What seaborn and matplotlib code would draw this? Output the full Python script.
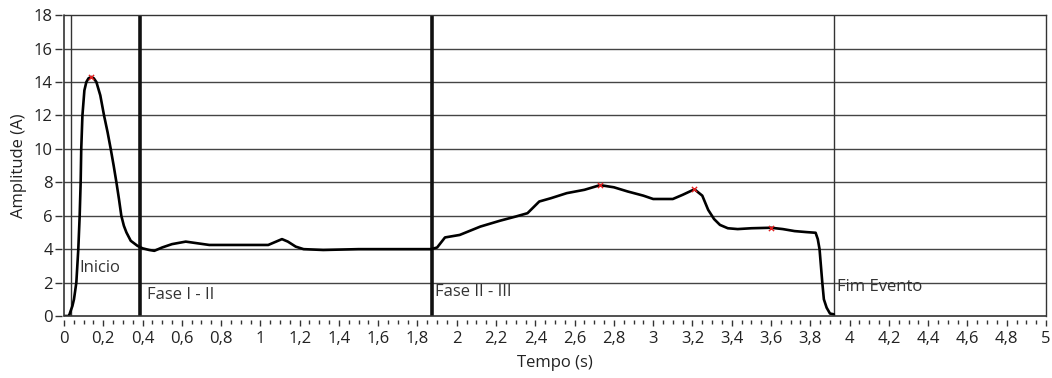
import seaborn as sns
import matplotlib.pyplot as plt
import pandas as pd
from matplotlib.ticker import MultipleLocator, FuncFormatter

# dados
tempo = [0.00, 0.02, 0.026, 0.034, 0.043, 0.051, 0.063, 0.073, 0.080, 0.085, 0.088, 0.094,
         0.104, 0.114, 0.125, 0.139, 0.152, 0.165, 0.185, 0.204, 0.222, 0.238, 0.253, 0.267,
         0.280, 0.292, 0.305, 0.318, 0.34, 0.374, 0.40, 0.434, 0.46, 0.50, 0.55, 0.62, 0.68,
         0.74, 0.85, 0.95, 1.04, 1.08, 1.11, 1.14, 1.18, 1.22, 1.32, 1.50, 1.70, 1.87, 1.90,
         1.94, 2.015, 2.12, 2.22, 2.30, 2.36, 2.39, 2.42, 2.48, 2.56, 2.65, 2.73, 2.80, 2.87,
         2.95, 3.00, 3.10, 3.15, 3.21, 3.25, 3.28, 3.31, 3.34, 3.38, 3.43, 3.50, 3.60, 3.66,
         3.72, 3.78, 3.827, 3.838, 3.847, 3.861, 3.869, 3.883, 3.90, 3.92]
amplitude = [0.0, 0.0, 0.02, 0.3, 0.6, 1.0, 2.0, 4.0, 6.0, 8.0, 10.0, 12.0,
             13.5, 14.0, 14.22, 14.3, 14.22, 14.0, 13.2, 12.0, 11.0, 10.0, 9.0, 8.0,
             7.0, 6.0, 5.4, 5.0, 4.5, 4.2, 4.05, 3.95, 3.9, 4.1, 4.3, 4.45, 4.35,
             4.25, 4.25, 4.25, 4.25, 4.45, 4.6, 4.45, 4.15, 4.0, 3.95, 4.0, 4.0, 4.0, 4.1,
             4.7, 4.85, 5.35, 5.7, 5.95, 6.15, 6.5, 6.85, 7.05, 7.35, 7.55, 7.83, 7.7, 7.45,
             7.2, 7.0, 7.0, 7.25, 7.58, 7.2, 6.35, 5.8, 5.45, 5.25, 5.2, 5.25, 5.28, 5.2,
             5.08, 5.02, 4.98, 4.6, 4.0, 2.0, 1.0, 0.5, 0.15, 0.1]

picos_t = [0.139, 2.73, 3.21, 3.60]
picos_a = [14.3, 7.83, 7.58, 5.28]

marcas_t = [0.036, 0.388, 1.872, 3.923]
marcas_w = [1.0, 2.6, 2.6, 1.0]
marcas_txt = ["Inicio", "Fase I - II", "Fase II - III", "Fim Evento"]
marcas_tx = [0.078, 0.425, 1.89, 3.935]
marcas_ty = [2.87, 1.25, 1.45, 1.75]

df = pd.DataFrame({"t": tempo, "a": amplitude})

sns.set_theme(style="white")
plt.rcParams["font.family"] = ["Open Sans", "DejaVu Sans"]

fig = plt.figure(figsize=(10.52, 3.78), dpi=100)
ax = fig.add_axes([0.0608, 0.164, 0.9335, 0.796])

for y in range(2, 18, 2):
    ax.axhline(y, color="#444444", lw=1.0, zorder=1)

for t, w in zip(marcas_t, marcas_w):
    ax.axvline(t, color="#111111" if w > 1 else "#333333", lw=w, zorder=2)
for tx, ty, txt in zip(marcas_tx, marcas_ty, marcas_txt):
    ax.text(tx, ty, txt, fontsize=12, color="#333333", va="center", zorder=3)

sns.lineplot(data=df, x="t", y="a", ax=ax, color="black", lw=1.9, zorder=4)
ax.scatter(picos_t, picos_a, marker="x", color="#e02020", s=14, lw=1, zorder=5)

ax.set_xlim(0, 5)
ax.set_ylim(0, 18)
ax.xaxis.set_major_locator(MultipleLocator(0.2))
ax.xaxis.set_minor_locator(MultipleLocator(0.05))
ax.yaxis.set_major_locator(MultipleLocator(2))
fmt = lambda v, p: ("%g" % round(v, 2)).replace(".", ",")
ax.xaxis.set_major_formatter(FuncFormatter(fmt))

# escala destacada do quadro (estilo LabVIEW)
ax.spines["bottom"].set_position(("outward", 3))
ax.spines["left"].set_position(("outward", 1.5))
ax.spines["bottom"].set_color("none")
ax.spines["left"].set_color("none")
for s in ["top", "right"]:
    ax.spines[s].set_color("#333333")
    ax.spines[s].set_linewidth(1)
ax.axhline(0, color="#333333", lw=1.2, clip_on=False, zorder=6)
ax.axvline(0, color="#333333", lw=1.2, clip_on=False, zorder=6)

ax.tick_params(axis="x", which="major", direction="out", length=4.5, width=1,
               color="#333333", labelsize=12, labelcolor="#222222", pad=3)
ax.tick_params(axis="x", which="minor", direction="out", length=3, width=1, color="#333333")
ax.tick_params(axis="y", which="major", direction="out", length=5, width=1,
               color="#333333", labelsize=12, labelcolor="#222222", pad=1.5)
ax.tick_params(bottom=True, left=True, which="both")

ax.set_xlabel("Tempo (s)", fontsize=12, color="#222222", labelpad=6)
ax.set_ylabel("Amplitude (A)", fontsize=12, color="#222222", labelpad=5)

fig.savefig("out.png", dpi=100)
